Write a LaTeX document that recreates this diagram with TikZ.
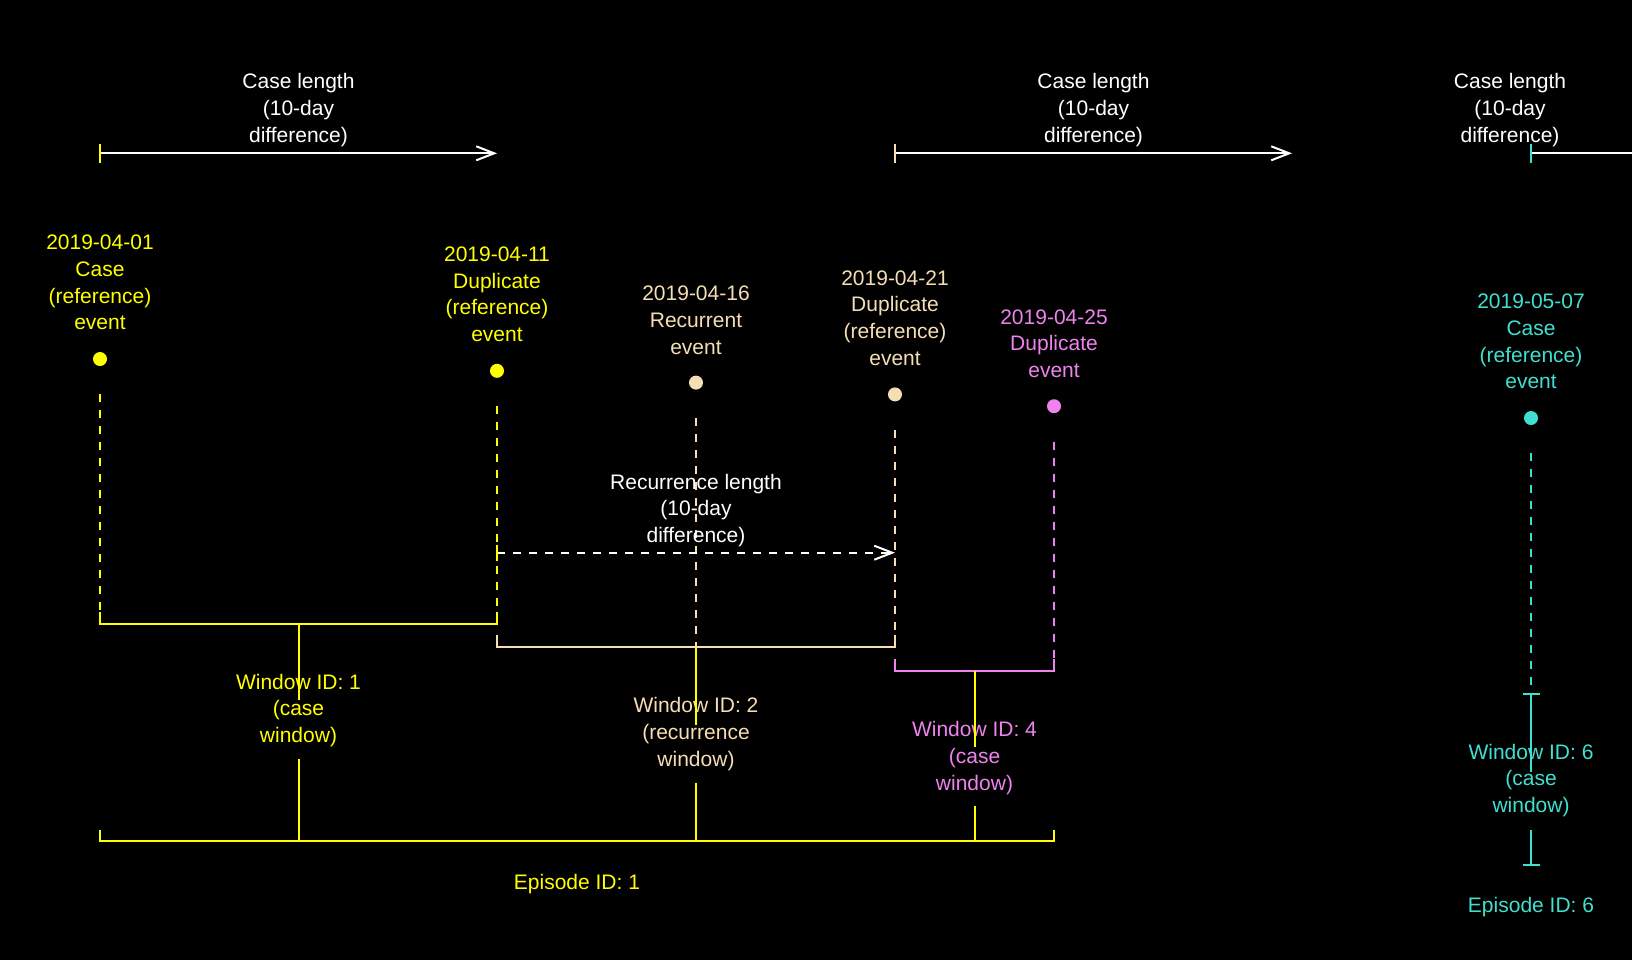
\documentclass[tikz,border=0pt]{standalone}
\usepackage{fontspec}
\setmainfont{Liberation Sans}
\usetikzlibrary{arrows.meta}
\definecolor{epiyellow}{HTML}{FFFF00}
\definecolor{wheatc}{HTML}{F5DEB3}
\definecolor{violetc}{HTML}{EE82EE}
\definecolor{turq}{HTML}{40E0D0}

\begin{document}
\begin{tikzpicture}[x=0.5pt,y=-0.5pt,
  lbl/.style={align=center,inner sep=0pt,font=\fontsize{10.5pt}{13.35pt}\selectfont},
  evdot/.style={circle,fill=#1,draw=none,inner sep=0pt,minimum size=7pt},
  guide/.style={line width=1pt,dash pattern=on 4pt off 4pt,shorten <=14pt},
  ln/.style={line width=1pt},
  lenarrow/.style={line width=1pt,white,-{Straight Barb[length=9pt,width=7pt]}},
]
% canvas
\fill[black] (0,0) rectangle (1632,960);
\useasboundingbox (0,0) rectangle (1632,960);
\clip (0,0) rectangle (1632,960);

% ---------- case length arrows ----------
\coordinate (c1s) at (100,153.3);  \coordinate (c1e) at (497,153.3);
\coordinate (c2s) at (895,153.3);  \coordinate (c2e) at (1292,153.3);
\coordinate (c3s) at (1531,153.3); \coordinate (c3e) at (1928,153.3);
\draw[lenarrow] (c1s) -- (c1e);
\draw[lenarrow] (c2s) -- (c2e);
\draw[lenarrow] (c3s) -- (c3e);
\draw[ln,epiyellow] (c1s) ++(0,-9.3) -- ++(0,18.6);
\draw[ln,wheatc] (c2s) ++(0,-9.3) -- ++(0,18.6);
\draw[ln,turq] (c3s) ++(0,-9.3) -- ++(0,18.6);
\node[lbl,white] (cl1) at (298.5,110) {Case length\\(10-day\\difference)};
\node[lbl,white] (cl2) at (1093.5,110) {Case length\\(10-day\\difference)};
\node[lbl,white] (cl3) at (1510,110) {Case length\\(10-day\\difference)};

% ---------- events ----------
\node[evdot=epiyellow] (e1) at (100,359) {};
\node[evdot=epiyellow] (e2) at (497,370.8) {};
\node[evdot=wheatc] (e3) at (696,382.6) {};
\node[evdot=wheatc] (e4) at (895,394.4) {};
\node[evdot=violetc] (e5) at (1054,406.2) {};
\node[evdot=turq] (e6) at (1531,418) {};

\node[lbl,epiyellow] (t1) at (100,282.5) {2019-04-01\\Case\\(reference)\\event};
\node[lbl,epiyellow] (t2) at (497,294.3) {2019-04-11\\Duplicate\\(reference)\\event};
\node[lbl,wheatc] (t3) at (696,320.1) {2019-04-16\\Recurrent\\event};
\node[lbl,wheatc] (t4) at (895,317.9) {2019-04-21\\Duplicate\\(reference)\\event};
\node[lbl,violetc] (t5) at (1054,343.7) {2019-04-25\\Duplicate\\event};
\node[lbl,turq] (t6) at (1531,341.5) {2019-05-07\\Case\\(reference)\\event};

% ---------- window and episode brackets ----------
\coordinate (w1l) at (100,623.7);  \coordinate (w1r) at (497,623.7);  \coordinate (w1m) at (298.5,623.7);
\coordinate (w2l) at (497,646.7);  \coordinate (w2r) at (895,646.7);  \coordinate (w2m) at (696,646.7);
\coordinate (w4l) at (895,670.7);  \coordinate (w4r) at (1054,670.7); \coordinate (w4m) at (974.5,670.7);
\coordinate (w6m) at (1531,694);
\coordinate (p1l) at (100,841);    \coordinate (p1r) at (1054,841);
\coordinate (p6m) at (1531,865);

% dashed guides from each event down to its window
\draw[guide,epiyellow] (e1) -- (w1l);
\draw[guide,epiyellow] (e2) -- (w1r);
\draw[guide,wheatc] (e3) -- (w2m);
\draw[guide,wheatc] (e4) -- (w2r);
\draw[guide,violetc] (e5) -- (w4r);
\draw[guide,turq] (e6) -- (w6m);

% recurrence length
\coordinate (r1s) at (497,552.7); \coordinate (r1e) at (895,552.7);
\draw[lenarrow,dash pattern=on 4pt off 4pt] (r1s) -- (r1e);
\draw[ln,epiyellow] (r1s) ++(0,-8) -- ++(0,16);
\node[lbl,white] (rl) at (696,510.5) {Recurrence length\\(10-day\\difference)};

% window brackets
\draw[ln,epiyellow] (w1l) ++(0,-11.5) -- (w1l) -- (w1r) -- ++(0,-11.5);
\draw[ln,wheatc] (w2l) ++(0,-11.5) -- (w2l) -- (w2r) -- ++(0,-11.5);
\draw[ln,violetc] (w4l) ++(0,-11.5) -- (w4l) -- (w4r) -- ++(0,-11.5);
\draw[ln,turq] (w6m) ++(-8.5,0) -- ++(17,0);

% window labels
\node[lbl,epiyellow] (wl1) at (298.5,710.5) {Window ID: 1\\(case\\window)};
\node[lbl,wheatc] (wl2) at (696,733.9) {Window ID: 2\\(recurrence\\window)};
\node[lbl,violetc] (wl4) at (974.5,757.9) {Window ID: 4\\(case\\window)};
\node[lbl,turq] (wl6) at (1531,780.5) {Window ID: 6\\(case\\window)};

% links from windows to episodes
\coordinate (k1a) at (298.5,700);  \coordinate (k1b) at (298.5,759);  \coordinate (k1c) at (298.5,841);
\coordinate (k2a) at (696,725);    \coordinate (k2b) at (696,783.3);  \coordinate (k2c) at (696,841);
\coordinate (k4a) at (974.5,747.3);\coordinate (k4b) at (974.5,806);  \coordinate (k4c) at (974.5,841);
\coordinate (k6a) at (1531,771.7); \coordinate (k6b) at (1531,830);
\draw[ln,epiyellow] (w1m) -- (k1a) (k1b) -- (k1c);
\draw[ln,epiyellow] (w2m) -- (k2a) (k2b) -- (k2c);
\draw[ln,epiyellow] (w4m) -- (k4a) (k4b) -- (k4c);
\draw[ln,turq] (w6m) -- (k6a) (k6b) -- (p6m);

% episode brackets
\draw[ln,epiyellow] (p1l) ++(0,-11.5) -- (p1l) -- (p1r) -- ++(0,-11.5);
\draw[ln,turq] (p6m) ++(-8.5,0) -- ++(17,0);
\node[lbl,epiyellow] (ep1) at (577,884) {Episode ID: 1};
\node[lbl,turq] (ep6) at (1531,907) {Episode ID: 6};
\end{tikzpicture}
\end{document}
